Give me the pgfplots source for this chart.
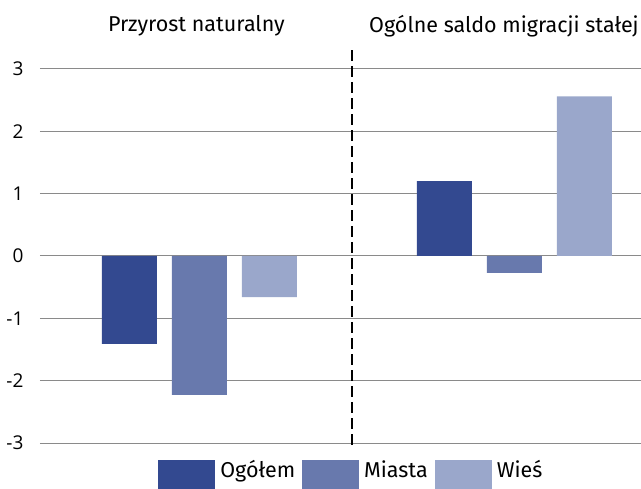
\documentclass[border=0pt]{standalone}
\usepackage{fontspec}
\setmainfont{Fira Sans}
\newfontfamily\tickfont{Open Sans}
\usepackage{pgfplots}
\pgfplotsset{compat=1.18}

\definecolor{ogolem}{HTML}{334990}
\definecolor{miasta}{HTML}{6879AD}
\definecolor{wies}{HTML}{9AA7CB}
\definecolor{gridc}{HTML}{8A8A8A}

\begin{document}
\begin{tikzpicture}
\begin{axis}[
    name=ax,
    scale only axis,
    width=601pt, height=396pt,
    xmin=-0.506, xmax=1.4016,
    ymin=-3, ymax=3.35,
    axis line style={draw=none},
    major tick length=0pt,
    ymajorgrids,
    grid style={gridc, line width=1pt},
    ytick={-3,-2,-1,0,1,2,3},
    yticklabels={-3,-2,-1,0,1,2,3},
    yticklabel style={font=\fontsize{19}{22}\selectfont\tickfont, anchor=east, xshift=-13pt},
    xtick=\empty,
    ybar, bar shift=0pt, bar width=0.1746,
    clip=false,
    legend columns=3,
    legend style={at={(0.518,-0.0815)}, anchor=center, draw=none, fill=none,
        font=\fontsize{21.5}{24}\selectfont, inner sep=0pt,
        /tikz/every odd column/.append style={column sep=3pt},
        /tikz/every even column/.append style={column sep=5pt}},
    legend image code/.code={\fill[#1] (0pt,-22pt) rectangle (57pt,10pt);},
]
\addplot[fill=ogolem, draw=none] coordinates {(-0.2222,-1.41) (0.7778,1.20)};
\addplot[fill=miasta, draw=none] coordinates {(0,-2.23) (1,-0.27)};
\addplot[fill=wies, draw=none] coordinates {(0.2222,-0.66) (1.2222,2.56)};
\legend{Ogółem, Miasta, Wieś}
\draw[black, line width=2pt, dash pattern=on 11pt off 5pt] (axis cs:0.484,-3.03) -- (axis cs:0.484,3.35);
\node[font=\fontsize{21.5}{24}\selectfont] at (axis cs:-0.0095,3.69) {Przyrost naturalny};
\node[font=\fontsize{21.5}{24}\selectfont] at (axis cs:0.9667,3.69) {Ogólne saldo migracji stałej};
\end{axis}
\pgfresetboundingbox
\path[use as bounding box] ([xshift=-40pt,yshift=-45pt]ax.south west) rectangle ([yshift=47pt]ax.north east);
\end{tikzpicture}
\end{document}
